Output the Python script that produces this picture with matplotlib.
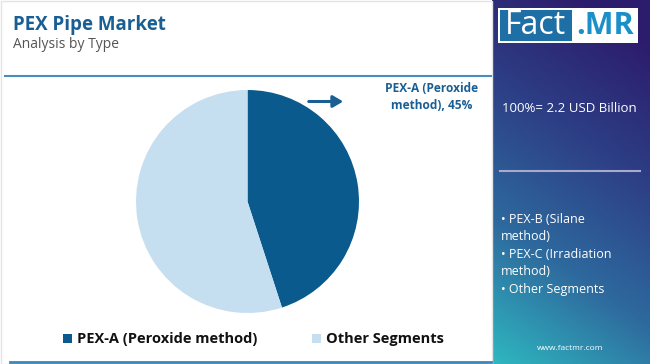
import numpy as np
import matplotlib
matplotlib.use("Agg")
import matplotlib.pyplot as plt
from matplotlib.patches import Rectangle
from matplotlib.colors import LinearSegmentedColormap

plt.rcParams['font.family'] = ['Open Sans', 'DejaVu Sans']

title = "PEX Pipe Market"
subtitle = "Analysis by Type"
categories = ["PEX-A (Peroxide method)", "Other Segments"]
shares = [45, 55]
colors = ["#0b5a8e", "#c6dff0"]
total_label = "100%= 2.2 USD Billion"
other_items = ["• PEX-B (Silane\nmethod)", "• PEX-C (Irradiation\nmethod)", "• Other Segments"]
callout = "PEX-A (Peroxide\nmethod), 45%"

W, H = 650, 364
fig = plt.figure(figsize=(6.5, 3.64), dpi=100)
bg = fig.add_axes([0, 0, 1, 1])
bg.axis('off')

# left border
bg.add_patch(Rectangle((0.5, 0.5), 491, 363, fill=False, edgecolor="#e4e4e4", lw=1))

# title
bg.text(13, 25, title, fontsize=13.5, fontweight='bold', color="#1a5f94", va='center', ha='left')
bg.text(13, 45, subtitle, fontsize=10, color="#555555", va='center', ha='left')
bg.plot([5, 491], [76, 76], color="#4a8dbd", lw=1.5)
bg.plot([10, 491], [362, 362], color="#3f86b8", lw=2)

# right panel gradient
ny, nx = 200, 80
yy, xx = np.mgrid[0:1:ny*1j, 0:1:nx*1j]
t = np.clip(0.85 * yy + 0.25 * (1 - xx) - 0.1, 0, 1)
cmap = LinearSegmentedColormap.from_list("g", ["#2c1c6c", "#2d3f86", "#2e6a9e", "#2fb7c0"])
bg.imshow(t, cmap=cmap, extent=[492, 650, 364, 0], aspect='auto', zorder=0, interpolation='bilinear')
bg.set_xlim(0, W)
bg.set_ylim(H, 0)

# logo
bg.add_patch(Rectangle((498, 8), 140, 35, facecolor="white", edgecolor="none", zorder=2))
bg.add_patch(Rectangle((500, 10), 72, 31, facecolor="#1e6fa6", edgecolor="none", zorder=3))
bg.text(535, 26, "Fact", fontsize=23, color="white", ha='center', va='center', zorder=4)
bg.text(605, 26, ".MR", fontsize=22, color="#1a8fc9", fontweight='bold', ha='center', va='center', zorder=4)

bg.text(502, 109, total_label, fontsize=9.5, color="white", ha='left', va='center')
bg.plot([500, 640], [171, 171], color="#a9a9cc", lw=1.5)
ys = [221, 256, 290]
for item, y in zip(other_items, ys):
    bg.text(501, y - 1 + (8 if '\n' in item else 0), item, fontsize=9, color="white",
            ha='left', va='center', linespacing=1.4)
bg.text(570, 348, "www.factmr.com", fontsize=6, color="white", ha='center', va='center')

# pie
cx, cy, r = 247.5, 201.5, 111.5
ax = fig.add_axes([(cx - r) / W, 1 - (cy + r) / H, 2 * r / W, 2 * r / H])
ax.pie(shares, colors=colors, startangle=90, counterclock=False,
       wedgeprops=dict(linewidth=0))
ax.set_aspect('auto')
ax.set_xlim(-1, 1)
ax.set_ylim(-1, 1)
ax.axis('off')

# callout
bg.annotate("", xy=(346, 101.5), xytext=(306, 101.5),
            arrowprops=dict(arrowstyle="-|>,head_width=0.35,head_length=0.6", color="#1a5f94", lw=2.2))
bg.text(432, 97, callout, fontsize=8.6, fontweight='bold', color="#1a5f94",
        ha='center', va='center', linespacing=1.45)

# legend
leg_x = [63, 312]
for x, c, lab in zip(leg_x, colors, categories):
    bg.add_patch(Rectangle((x, 334), 9, 9, facecolor=c, edgecolor='none'))
    bg.text(x + 14, 339, lab, fontsize=10.5, fontweight='bold', color="#111111", ha='left', va='center')

fig.savefig("out.png", dpi=100)
